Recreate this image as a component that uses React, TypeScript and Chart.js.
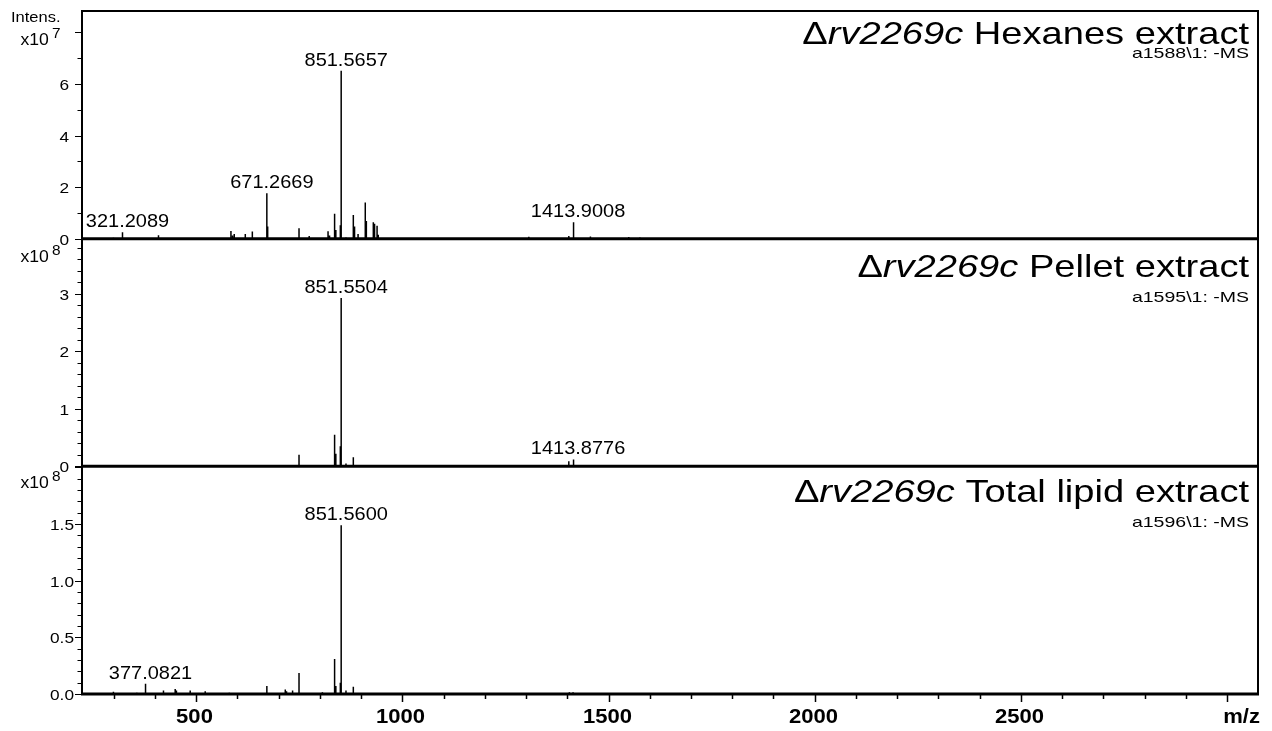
import { useEffect, useRef } from "react";
import { Chart, registerables } from "chart.js";

Chart.register(...registerables);

// ---- Spectrum data (m/z, intensity in units of the panel's 10^n) ----

const strainName = "rv2269c";
const extractNames = ["Hexanes extract", "Pellet extract", "Total lipid extract"];
const runTags = ["a1588\\1: -MS", "a1595\\1: -MS", "a1596\\1: -MS"];
const intensityExponents = [7, 8, 8];

const hexanesMz = [
  262.1, 281.0, 299.2, 321.2089, 339.5, 355.1, 383.3, 408.5, 432.2, 455.3,
  480.4, 506.6, 531.3, 556.8, 584.2, 588.1, 592.2, 619.0, 636.1, 652.4,
  671.2669, 673.3, 697.4, 723.5, 749.3, 774.0, 798.5, 819.7, 823.4, 835.6,
  838.6, 849.5, 851.5657, 863.2, 881.0, 884.0, 892.5, 910.0, 912.6, 929.5,
  932.5, 938.6, 941.5, 962.3, 1003.6, 1061.2, 1118.7, 1172.4, 1225.8, 1262.5,
  1306.6, 1352.1, 1403.6, 1413.9008, 1415.9, 1456.0, 1497.3, 1549.0, 1576.0, 1612.4,
];
const hexanesIntensity = [
  0.02, 0.03, 0.04, 0.25, 0.02, 0.03, 0.02, 0.13, 0.02, 0.03,
  0.02, 0.03, 0.02, 0.03, 0.30, 0.12, 0.18, 0.18, 0.28, 0.03,
  1.76, 0.47, 0.03, 0.02, 0.40, 0.10, 0.03, 0.29, 0.12, 0.97,
  0.34, 0.52, 6.51, 0.05, 0.92, 0.47, 0.18, 1.40, 0.69, 0.64,
  0.58, 0.50, 0.15, 0.03, 0.02, 0.02, 0.02, 0.02, 0.02, 0.03,
  0.07, 0.02, 0.10, 0.64, 0.45, 0.08, 0.02, 0.06, 0.05, 0.02,
];
const hexanesLabels = [321.2089, 671.2669, 851.5657, 1413.9008];

const pelletMz = [749.3, 806.0, 835.6, 838.6, 849.5, 851.5504, 863.2, 881.0, 1403.6, 1413.8776, 1415.9];
const pelletIntensity = [0.20, 0.02, 0.55, 0.22, 0.35, 2.93, 0.05, 0.16, 0.09, 0.12, 0.10];
const pelletLabels = [851.5504, 1413.8776];

const totalMz = [
  299.2, 356.0, 377.0821, 420.6, 449.0, 452.0, 485.4, 521.8, 580.2, 671.3,
  716.0, 719.0, 733.7, 749.3, 806.0, 835.6, 838.6, 849.5, 851.56, 863.2,
  881.0, 1405.0, 1413.9,
];
const totalIntensity = [
  0.02, 0.01, 0.09, 0.03, 0.045, 0.03, 0.03, 0.025, 0.01, 0.07,
  0.04, 0.025, 0.03, 0.185, 0.015, 0.31, 0.07, 0.10, 1.49, 0.03,
  0.065, 0.015, 0.015,
];
const totalLabels = [377.0821, 851.56];

// ---- Axis settings ----
const mzMin = 223;
const mzMax = 3075;
const mzMajorStep = 500;
const mzMinorStep = 100;
const yMax = [8.83, 3.96, 2.01];
const yMajorStep = [2, 1, 0.5];
const yMinorStep = [1, 0.2, 0.1];

const FONT = '"Liberation Sans", Arial, Helvetica, sans-serif';

type Panel = { mz: number[]; intensity: number[]; labels: number[] };
const panels: Panel[] = [
  { mz: hexanesMz, intensity: hexanesIntensity, labels: hexanesLabels },
  { mz: pelletMz, intensity: pelletIntensity, labels: pelletLabels },
  { mz: totalMz, intensity: totalIntensity, labels: totalLabels },
];

// Each peak becomes a vertical stick rising from the baseline.
function sticks(mz: number[], intensity: number[]) {
  const order = mz.map((_, i) => i).sort((a, b) => mz[a] - mz[b]);
  const pts: { x: number; y: number }[] = [{ x: mzMin, y: 0 }];
  for (const i of order) {
    pts.push({ x: mz[i], y: 0 }, { x: mz[i], y: intensity[i] }, { x: mz[i], y: 0 });
  }
  pts.push({ x: mzMax, y: 0 });
  return pts;
}

function isMultiple(v: number, step: number) {
  const r = v / step;
  return Math.abs(r - Math.round(r)) < 1e-6;
}

function drawText(
  ctx: CanvasRenderingContext2D,
  text: string,
  x: number,
  y: number,
  font: string,
  align: CanvasTextAlign,
  sx: number
) {
  ctx.save();
  ctx.font = font;
  ctx.textAlign = align;
  ctx.textBaseline = "alphabetic";
  ctx.translate(x, y);
  ctx.scale(sx, 1);
  ctx.fillText(text, 0, 0);
  ctx.restore();
}

// Text layout for the panel decorations
const titleSize = 32;
const titleStretch = 1.19;
const titleBaseline = [33, 38, 36];
const tagSize = 15;
const tagStretch = 1.3;
const tagBaseline = [47, 63, 61];
const peakLabelSize = 18.5;
const peakLabelStretch = 1.08;
const tickLabelSize = 15;
const tickLabelStretch = 1.15;
const tickLabelRight = [69, 69, 74];
const expBaseline = [34, 23, 22];

const spectrumFrame = {
  id: "spectrumFrame",
  afterDraw(chart: any) {
    const ctx: CanvasRenderingContext2D = chart.ctx;
    const area = chart.chartArea;
    const xScale = chart.scales.x;
    ctx.save();
    ctx.fillStyle = "#000";
    ctx.strokeStyle = "#000";

    // outer frame
    ctx.lineWidth = 2;
    ctx.beginPath();
    ctx.moveTo(area.left, area.bottom);
    ctx.lineTo(area.left, area.top);
    ctx.lineTo(area.right, area.top);
    ctx.lineTo(area.right, area.bottom);
    ctx.stroke();

    panels.forEach((panel, i) => {
      const ys = chart.scales["y" + i];
      const zero = ys.getPixelForValue(0);

      // baseline
      ctx.lineWidth = 3;
      ctx.beginPath();
      ctx.moveTo(area.left - 1, zero);
      ctx.lineTo(area.right + 1, zero);
      ctx.stroke();

      // y ticks and labels
      ctx.lineWidth = 1;
      for (const t of ys.ticks) {
        const v = t.value;
        if (v < 0 || v > yMax[i] + 1e-9) continue;
        const p = Math.round(ys.getPixelForValue(v)) + 0.5;
        const major = isMultiple(v, yMajorStep[i]);
        ctx.beginPath();
        ctx.moveTo(area.left - (major ? 7 : 4.5), p);
        ctx.lineTo(area.left, p);
        ctx.stroke();
        if (major && v <= yMax[i] - yMajorStep[i] * 0.5) {
          const txt = yMajorStep[i] < 1 ? v.toFixed(1) : v.toFixed(0);
          drawText(ctx, txt, tickLabelRight[i], p + 5.5, `${tickLabelSize}px ${FONT}`, "right", tickLabelStretch);
        }
      }

      // intensity exponent
      const top = ys.top;
      if (i === 0) {
        drawText(ctx, "Intens.", 11, top + 10.5, `15px ${FONT}`, "left", 1.1);
      }
      drawText(ctx, "x10", 20.5, top + expBaseline[i], `16px ${FONT}`, "left", 1.1);
      drawText(ctx, String(intensityExponents[i]), 52, top + expBaseline[i] - 7, `14px ${FONT}`, "left", 1.1);

      // title: Δ + italic strain name + extract
      const parts = [
        { t: "\u0394", f: `${titleSize}px ${FONT}` },
        { t: strainName, f: `italic ${titleSize}px ${FONT}` },
        { t: " " + extractNames[i], f: `${titleSize}px ${FONT}` },
      ];
      let xr = area.right - 9;
      for (let k = parts.length - 1; k >= 0; k--) {
        ctx.font = parts[k].f;
        const w = ctx.measureText(parts[k].t).width * titleStretch;
        drawText(ctx, parts[k].t, xr - w, top + titleBaseline[i], parts[k].f, "left", titleStretch);
        xr -= w;
      }
      drawText(ctx, runTags[i], area.right - 9, top + tagBaseline[i], `${tagSize}px ${FONT}`, "right", tagStretch);

      // peak annotations
      for (const m of panel.labels) {
        const idx = panel.mz.indexOf(m);
        if (idx < 0) continue;
        const px = xScale.getPixelForValue(m);
        const py = ys.getPixelForValue(panel.intensity[idx]);
        drawText(ctx, m.toFixed(4), px + 5, py - 5, `${peakLabelSize}px ${FONT}`, "center", peakLabelStretch);
      }
    });

    // x ticks and labels
    const bottom = area.bottom;
    ctx.lineWidth = 1.5;
    for (const t of xScale.ticks) {
      const v = t.value;
      const p = Math.round(xScale.getPixelForValue(v)) + 0.5;
      const major = isMultiple(v, mzMajorStep);
      ctx.beginPath();
      ctx.moveTo(p, bottom);
      ctx.lineTo(p, bottom + (major ? 8 : 5));
      ctx.stroke();
      if (major && p < area.right - 45) {
        drawText(ctx, String(v), p - 2, bottom + 29, `bold 21px ${FONT}`, "center", 1.05);
      }
    }
    drawText(ctx, "m/z", area.right + 2, bottom + 29, `bold 21px ${FONT}`, "right", 1.05);
    ctx.restore();
  },
};

function yAxis(i: number) {
  return {
    type: "linear",
    position: "left",
    stack: "panels",
    stackWeight: 1,
    min: 0,
    max: yMax[i],
    ticks: { display: false, stepSize: yMinorStep[i], includeBounds: false },
    grid: { display: false },
    border: { display: false },
    afterFit: (s: any) => {
      s.width = 82;
    },
  };
}

export default function App() {
  const ref = useRef<HTMLCanvasElement>(null);

  useEffect(() => {
    const canvas = ref.current;
    if (!canvas) return;
    const chart = new Chart(canvas, {
      type: "line",
      data: {
        datasets: panels.map((p, i) => ({
          label: extractNames[i],
          data: sticks(p.mz, p.intensity),
          xAxisID: "x",
          yAxisID: "y" + i,
          borderColor: "#000",
          borderWidth: 1.5,
          pointRadius: 0,
          fill: false,
          tension: 0,
        })),
      },
      options: {
        animation: false,
        responsive: false,
        devicePixelRatio: 1,
        layout: { padding: { top: 11, right: 14, left: 0, bottom: 0 } },
        plugins: { legend: { display: false }, tooltip: { enabled: false } },
        // stacked left axes are placed bottom-up, so the lowest panel comes first
        scales: {
          x: {
            type: "linear",
            min: mzMin,
            max: mzMax,
            ticks: { display: false, stepSize: mzMinorStep, includeBounds: false },
            grid: { display: false },
            border: { display: false },
            afterFit: (s: any) => {
              s.height = 37;
            },
          },
          y2: yAxis(2),
          y1: yAxis(1),
          y0: yAxis(0),
        } as any,
      },
      plugins: [spectrumFrame],
    } as any);
    return () => chart.destroy();
  }, []);

  return (
    <div style={{ position: "fixed", left: 0, top: 0, width: 1272, height: 731, background: "#fff" }}>
      <canvas ref={ref} width={1272} height={731} style={{ display: "block" }} />
    </div>
  );
}
